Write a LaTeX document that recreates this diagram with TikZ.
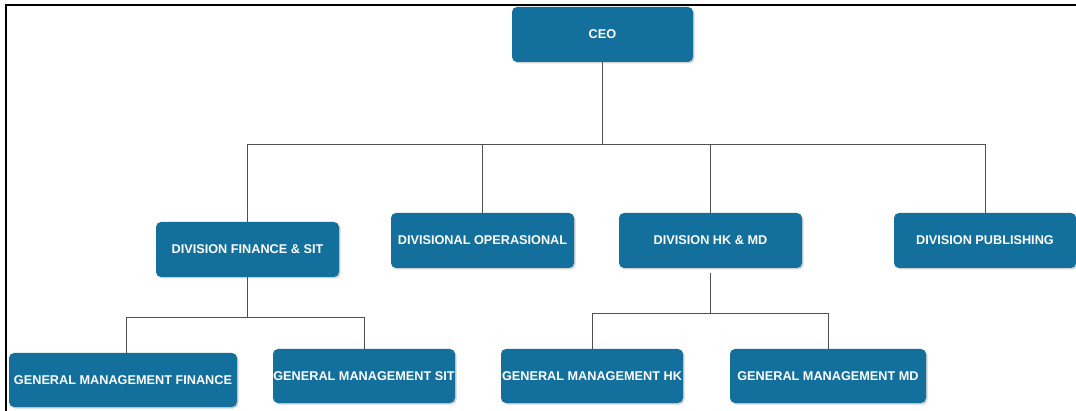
\documentclass[tikz,border=0pt]{standalone}
\usepackage{fontspec}
\setmainfont{Liberation Sans}
\usetikzlibrary{shadows}
\definecolor{boxblue}{RGB}{19,111,155}
\definecolor{linegray}{RGB}{80,80,80}
\begin{document}
\begin{tikzpicture}[x=1pt,y=-1pt,
  orgbox/.style={draw=none, fill=boxblue, rounded corners=5pt, inner sep=0pt,
    minimum height=55pt, text=white,
    font=\fontsize{12.7}{14}\selectfont\bfseries,
    drop shadow={shadow xshift=1.5pt, shadow yshift=-1.5pt, opacity=0.35, fill=gray}},
  conn/.style={draw=linegray, line width=0.9pt}]
\useasboundingbox (0,0) rectangle (1076,411);
\fill[white] (0,0) rectangle (1076,411);
% frame
\draw[black, line width=2pt] (6,411) -- (6,5.5) -- (1076,5.5);
% nodes
\node[orgbox, minimum width=181pt] (ceo) at (602.5,34.5) {CEO};
\node[orgbox, minimum width=183pt] (fin) at (247.5,249.5) {DIVISION FINANCE \& SIT};
\node[orgbox, minimum width=183pt] (opr) at (482.5,240.5) {DIVISIONAL OPERASIONAL};
\node[orgbox, minimum width=183pt] (hkmd) at (710.5,240.5) {DIVISION HK \& MD};
\node[orgbox, minimum width=182pt] (pub) at (985,240.5) {DIVISION PUBLISHING};
\node[orgbox, minimum width=228pt, minimum height=54pt] (gmf) at (123,380) {GENERAL MANAGEMENT FINANCE};
\node[orgbox, minimum width=182pt, minimum height=54pt] (gms) at (364,376) {GENERAL MANAGEMENT SIT};
\node[orgbox, minimum width=182pt, minimum height=54pt] (gmh) at (592,376) {GENERAL MANAGEMENT HK};
\node[orgbox, minimum width=196pt, minimum height=54pt] (gmm) at (828,376) {GENERAL MANAGEMENT MD};
% connectors
\coordinate (bus) at (602.5,144);
\draw[conn] (ceo.south) -- (bus);
\draw[conn] (bus) -| (fin.north);
\draw[conn] (bus) -| (opr.north);
\draw[conn] (bus) -| (hkmd.north);
\draw[conn] (bus) -| (pub.north);
\coordinate (finbus) at (247.5,317);
\draw[conn] (fin.south) -- (finbus);
\draw[conn] (finbus) -| ([xshift=3pt]gmf.north);
\draw[conn] (finbus) -| (gms.north);
\coordinate (hkbus) at (710.5,313);
\draw[conn] ([yshift=-5pt]hkmd.south) -- (hkbus);
\draw[conn] (hkbus) -| (gmh.north);
\draw[conn] (hkbus) -| (gmm.north);
\end{tikzpicture}
\end{document}
